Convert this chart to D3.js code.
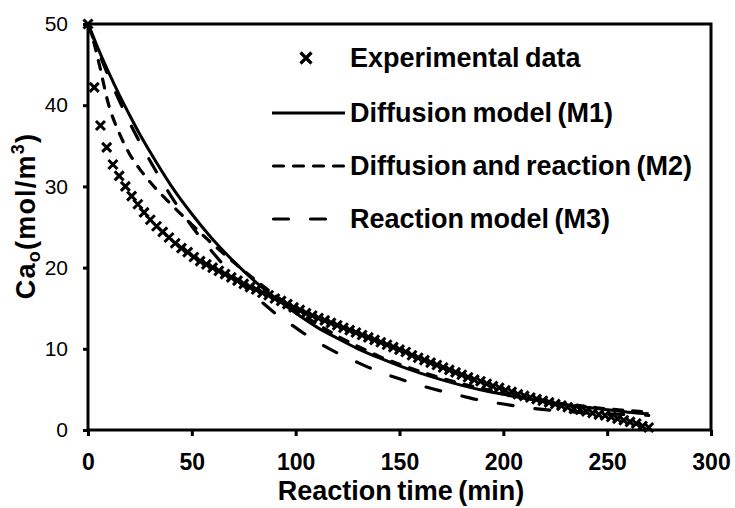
<!DOCTYPE html>
<html><head><meta charset="utf-8">
<script src="https://cdn.jsdelivr.net/npm/d3@7"></script>
<style>html,body{margin:0;padding:0;background:#fff;}svg{display:block;}</style>
</head><body>
<svg id="chart" width="735" height="508"></svg>
<script>
// ---- data ----
const xTicks = [0, 50, 100, 150, 200, 250, 300];
const yTicks = [0, 10, 20, 30, 40, 50];
const xTitle = "Reaction time (min)";
const legendLabels = ["Experimental data", "Diffusion model (M1)", "Diffusion and reaction (M2)", "Reaction model (M3)"];

const expTime = [0,3,6,9,12,15,18,21,24,27,30,33,36,39,42,45,48,51,54,57,60,63,66,69,72,75,78,81,84,87,90,93,96,99,102,105,108,111,114,117,120,123,126,129,132,135,138,141,144,147,150,153,156,159,162,165,168,171,174,177,180,183,186,189,192,195,198,201,204,207,210,213,216,219,222,225,228,231,234,237,240,243,246,249,252,255,258,261,264,267,270];
const expConc = [50.0,42.2,37.5,34.8,32.7,31.3,30.0,28.8,27.8,26.8,25.9,25.1,24.4,23.7,23.0,22.4,21.9,21.3,20.8,20.4,20.0,19.6,19.2,18.8,18.4,18.0,17.6,17.3,16.9,16.6,16.2,15.9,15.5,15.1,14.8,14.4,14.1,13.8,13.5,13.2,12.9,12.6,12.3,12.0,11.7,11.4,11.1,10.8,10.5,10.2,9.9,9.6,9.2,8.9,8.6,8.3,8.0,7.7,7.4,7.1,6.8,6.5,6.2,6.0,5.7,5.4,5.2,4.9,4.7,4.4,4.2,4.0,3.8,3.6,3.4,3.2,3.0,2.8,2.6,2.5,2.3,2.1,1.9,1.8,1.6,1.4,1.2,1.0,0.8,0.5,0.3];

const modelTime = [0,2,5,10,15,20,25,30,40,50,60,70,80,90,100,110,120,130,140,150,160,170,180,190,200,210,220,230,240,250,260,270];
const m1Conc = [50,48.8,46.9,44.0,41.3,38.8,36.4,34.2,30.1,26.6,23.5,20.8,18.4,16.3,14.4,12.7,11.3,10.0,8.9,7.9,7.0,6.2,5.5,4.9,4.4,3.9,3.5,3.1,2.8,2.5,2.2,2.0];
const m2Conc = [50,48.5,45.5,40.0,36.6,34.0,32.1,30.5,27.8,25.3,22.9,20.7,18.6,16.6,14.8,13.1,11.6,10.3,9.1,8.1,7.2,6.4,5.7,5.1,4.5,4.0,3.6,3.2,2.9,2.6,2.4,2.2];
const m3Conc = [50,48.6,46.6,43.5,40.6,37.9,35.4,33.1,28.8,25.1,21.9,19.0,16.6,14.4,12.6,10.9,9.5,8.3,7.2,6.3,5.5,4.8,4.2,3.6,3.2,2.8,2.5,2.3,2.1,2.0,1.9,1.8];

// ---- drawing ----
const svg = d3.select("#chart");
const font = "'Liberation Sans', Arial, sans-serif";
const x = d3.scaleLinear().domain([0, 300]).range([88, 711]);
const y = d3.scaleLinear().domain([0, 50]).range([430, 24]);

const line = (xs, ys) => d3.line().x((d, i) => x(xs[i])).y((d, i) => y(ys[i])).curve(d3.curveMonotoneX)(ys);

svg.append("path").attr("d", line(modelTime, m3Conc)).attr("fill", "none").attr("stroke", "#000")
  .attr("stroke-width", 3.2).attr("stroke-dasharray", "15,22").attr("stroke-linecap", "round");
svg.append("path").attr("d", line(modelTime, m2Conc)).attr("fill", "none").attr("stroke", "#000")
  .attr("stroke-width", 3.2).attr("stroke-dasharray", "9,10").attr("stroke-linecap", "round");
svg.append("path").attr("d", line(modelTime, m1Conc)).attr("fill", "none").attr("stroke", "#000")
  .attr("stroke-width", 3);

// markers
const xMark = "M-4.5,-4.5L4.5,4.5M-4.5,4.5L4.5,-4.5";
svg.append("g").selectAll("path").data(expConc).join("path")
  .attr("transform", (d, i) => `translate(${x(expTime[i])},${y(d)})`)
  .attr("d", xMark).attr("stroke", "#000").attr("stroke-width", 3).attr("fill", "none");

// frame
svg.append("rect").attr("x", x(0)).attr("y", y(50)).attr("width", x(300) - x(0)).attr("height", y(0) - y(50))
  .attr("fill", "none").attr("stroke", "#000").attr("stroke-width", 3);

// axes
const xAxis = svg.append("g").attr("transform", `translate(0,${y(0)})`)
  .call(d3.axisBottom(x).tickValues(xTicks).tickSize(6).tickSizeOuter(0).tickPadding(18));
xAxis.select(".domain").remove();
xAxis.selectAll("line").attr("stroke", "#000").attr("stroke-width", 3);
xAxis.selectAll("text").attr("font-family", font).attr("font-size", 23).attr("font-weight", "bold").attr("fill", "#000");

const yAxis = svg.append("g").attr("transform", `translate(${x(0)},0)`)
  .call(d3.axisLeft(y).tickValues(yTicks).tickSize(5).tickSizeOuter(0).tickPadding(15));
yAxis.select(".domain").remove();
yAxis.selectAll("line").attr("stroke", "#000").attr("stroke-width", 3);
yAxis.selectAll("text").attr("font-family", font).attr("font-size", 21).attr("fill", "#000");

// axis titles
svg.append("text").attr("x", 401).attr("y", 500).attr("text-anchor", "middle")
  .attr("font-family", font).attr("font-size", 27).attr("font-weight", "bold").attr("word-spacing", -2).text(xTitle);

const yt = svg.append("text").attr("transform", "translate(35,216) rotate(-90)").attr("text-anchor", "middle")
  .attr("font-family", font).attr("font-size", 27).attr("font-weight", "bold").attr("letter-spacing", 1.2);
yt.append("tspan").text("Ca");
yt.append("tspan").attr("font-size", 18).attr("dy", 5).text("o");
yt.append("tspan").attr("dy", -5).text("(mol/m");
yt.append("tspan").attr("font-size", 18).attr("dy", -11).text("3");
yt.append("tspan").attr("dy", 11).text(")");

// legend
const legY = [58, 113, 166, 219];
const lg = svg.append("g");
lg.append("path").attr("transform", `translate(306,${legY[0]})`).attr("d", "M-5.5,-5.5L5.5,5.5M-5.5,5.5L5.5,-5.5").attr("stroke", "#000").attr("stroke-width", 3.2);
lg.append("line").attr("x1", 272).attr("x2", 345).attr("y1", legY[1]).attr("y2", legY[1]).attr("stroke", "#000").attr("stroke-width", 3);
lg.append("line").attr("x1", 273.5).attr("x2", 345).attr("y1", legY[2]).attr("y2", legY[2]).attr("stroke", "#000").attr("stroke-width", 3.2)
  .attr("stroke-dasharray", "10,10").attr("stroke-linecap", "round");
lg.append("line").attr("x1", 273.5).attr("x2", 345).attr("y1", legY[3]).attr("y2", legY[3]).attr("stroke", "#000").attr("stroke-width", 3.2)
  .attr("stroke-dasharray", "15,22").attr("stroke-linecap", "round");
lg.selectAll("text").data(legendLabels).join("text")
  .attr("x", 350).attr("y", (d, i) => legY[i]).attr("dy", "0.35em")
  .attr("font-family", font).attr("font-size", 27).attr("font-weight", "bold").attr("word-spacing", -2)
  .text(d => d);
</script>
</body></html>
